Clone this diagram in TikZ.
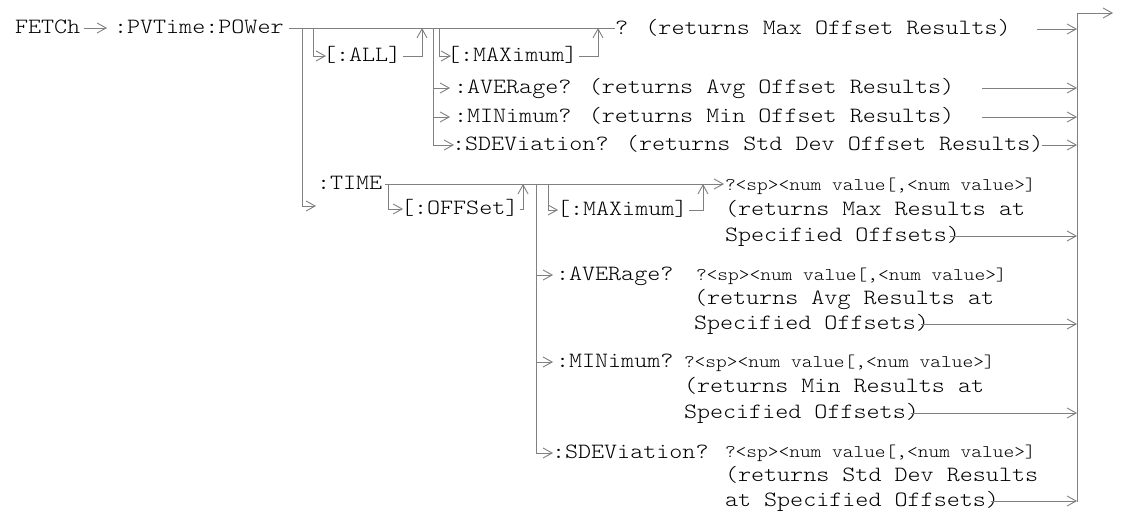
\documentclass[tikz,border=0pt]{standalone}
\usepackage{fontspec}
\newfontfamily\courfont{lmmonolt10-regular.otf}[FakeStretch=1.14]
\usetikzlibrary{arrows.meta}
\definecolor{wirec}{RGB}{128,128,128}
\tikzset{
  big/.style={anchor=mid west,inner sep=0pt,outer sep=0pt,font=\courfont\fontsize{21.8}{26}\selectfont},
  sml/.style={anchor=base west,inner sep=0pt,outer sep=0pt,font=\courfont\fontsize{17.9}{26}\selectfont},
  wire/.style={draw=wirec,line width=0.9pt},
  arr/.style={wire,-{Straight Barb[length=9pt,width=10pt,line width=0.9pt]}},
}
\begin{document}
\courfont\fontsize{26.5}{30}\selectfont
\begin{tikzpicture}[x=1pt,y=-1pt]
\useasboundingbox (0,0) rectangle (1121,524);
% ---- top section nodes
\node[big] (fetch) at (15,28) {FETCh};
\node[big] (pvt) at (114,28) {:PVTime:POWer};
\node[big] (all) at (323,56) {[:ALL]};
\node[big] (maxA) at (447,56) {[:MAXimum]};
\node[big] (maxAq) at (615,29) {? (returns Max Offset Results)};
\node[big] (avgA) at (454,88) {:AVERage? (returns Avg Offset Results)};
\node[big] (minA) at (454,117) {:MINimum? (returns Min Offset Results)};
\node[big] (sdvA) at (452,145) {:SDEViation? (returns Std Dev Offset Results)};
% ---- time section nodes
\node[big] (time) at (317,184) {:TIME};
\node[big] (off) at (401,209) {[:OFFSet]};
\node[big] (maxB) at (557,210) {[:MAXimum]};
\node[sml] (maxBs) at (725,190) {?<sp><num value[,<num value>]};
\node[big] (maxB1) at (725,210) {(returns Max Results at};
\node[big] (maxB2) at (725,236) {Specified Offsets)};
\node[big] (avgB) at (556,275) {:AVERage?};
\node[sml] (avgBs) at (696,280) {?<sp><num value[,<num value>]};
\node[big] (avgB1) at (694,299) {(returns Avg Results at};
\node[big] (avgB2) at (694,324) {Specified Offsets)};
\node[big] (minB) at (556,362) {:MINimum?};
\node[sml] (minBs) at (684,367) {?<sp><num value[,<num value>]};
\node[big] (minB1) at (684,387) {(returns Min Results at};
\node[big] (minB2) at (684,413) {Specified Offsets)};
\node[big] (sdvB) at (552,453) {:SDEViation?};
\node[sml] (sdvBs) at (725,457) {?<sp><num value[,<num value>]};
\node[big] (sdvB1) at (725,476) {(returns Std Dev Results};
\node[big] (sdvB2) at (725,501) {at Specified Offsets)};
% ---- coordinates
\coordinate (R) at (1077,13);
\coordinate (Rb) at (1077,502);
\coordinate (out) at (1113,13);
\coordinate (t0) at ([xshift=5pt]pvt.mid east);
\coordinate (vA) at (302,28);
\coordinate (tA) at (316,206);
\coordinate (vB) at (313,28);
\coordinate (rA) at (422,28);
\coordinate (vC) at (433,28);
\coordinate (vD) at (439,28);
\coordinate (rB) at (598,28);
\coordinate (tE) at ([xshift=3pt]time.mid east);
\coordinate (tEnd) at (724,184);
\coordinate (vE) at (388,184);
\coordinate (rE) at (523,184);
\coordinate (vF) at (536,184);
\coordinate (vG) at (548,184);
\coordinate (rG) at (703,184);
% ---- top section connectors
\draw[arr] ([xshift=4pt]fetch.mid east) -- ([xshift=-7pt]pvt.mid west);
\draw[wire] (t0) -- (t0 -| maxAq.west);
\draw[arr] (vA) |- (tA);
\draw[arr] (vB) |- ([xshift=3pt]all.mid west);
\draw[arr] ([xshift=2pt]all.mid east) -| (rA);
\draw[arr] (vC) |- ([xshift=2pt]sdvA.mid west);
\draw[arr] (vC |- avgA.mid west) -- ([xshift=-4pt]avgA.mid west);
\draw[arr] (vC |- minA.mid west) -- ([xshift=-4pt]minA.mid west);
\draw[arr] (vD) |- ([xshift=4pt]maxA.mid west);
\draw[arr] ([xshift=2pt]maxA.mid east) -| (rB);
% ---- right bus
\draw[wire] (R) -- (Rb);
\draw[arr] (R) -- (out);
\draw[arr] ([xshift=26pt]maxAq.mid east) -- (maxAq.mid east -| R);
\draw[arr] ([xshift=28pt]avgA.mid east) -- (avgA.mid east -| R);
\draw[arr] ([xshift=28pt]minA.mid east) -- (minA.mid east -| R);
\draw[arr] ([xshift=-1pt]sdvA.mid east) -- (sdvA.mid east -| R);
% ---- time section connectors
\draw[arr] (tE) -- (tEnd);
\draw[arr] (vE) |- ([xshift=2pt]off.mid west);
\draw[arr] ([xshift=2pt]off.mid east) -| (rE);
\draw[arr] (vF) |- ([xshift=1pt]sdvB.mid west);
\draw[arr] (vF |- avgB.mid west) -- ([xshift=-3pt]avgB.mid west);
\draw[arr] (vF |- minB.mid west) -- ([xshift=-3pt]minB.mid west);
\draw[arr] (vG) |- ([xshift=1pt]maxB.mid west);
\draw[arr] ([xshift=2pt]maxB.mid east) -| (rG);
\draw[arr] ([xshift=-10pt]maxB2.mid east) -- (maxB2.mid east -| R);
\draw[arr] ([xshift=-8pt]avgB2.mid east) -- (avgB2.mid east -| R);
\draw[arr] ([xshift=-8pt]minB2.mid east) -- (minB2.mid east -| R);
\draw[arr] ([xshift=-8pt]sdvB2.mid east) -- (sdvB2.mid east -| R);
\end{tikzpicture}
\end{document}
